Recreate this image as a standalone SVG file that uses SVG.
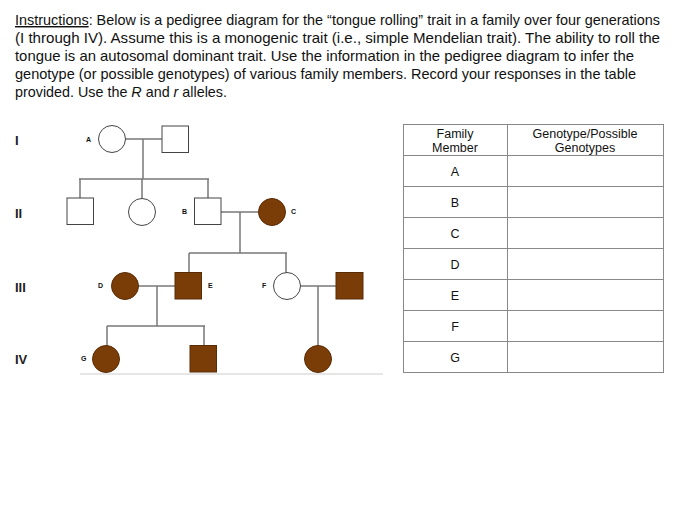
<svg xmlns="http://www.w3.org/2000/svg" width="694" height="512" viewBox="0 0 694 512">
<style>
.t{font-family:"Liberation Sans",Arial,sans-serif;font-size:14.5px;fill:#111}
.lb{font-family:"Liberation Sans",Arial,sans-serif;font-size:7px;font-weight:bold;fill:#111}
.rn{font-family:"Liberation Sans",Arial,sans-serif;font-size:13px;font-weight:bold;fill:#222}
.tb{font-family:"Liberation Sans",Arial,sans-serif;font-size:12.5px;fill:#111;text-anchor:middle}
.u{fill:#fff;stroke:#444;stroke-width:1}
.a{fill:#7a3d08;stroke:#5a2c05;stroke-width:1}
.c line{stroke:#777;stroke-width:1.5}
.g line{stroke:#888;stroke-width:1}
</style>
<rect width="694" height="512" fill="#fff"/>
<g id="instructions">
<text class="t" x="15" y="25" textLength="645" lengthAdjust="spacingAndGlyphs"><tspan text-decoration="underline">Instructions</tspan>: Below is a pedigree diagram for the “tongue rolling” trait in a family over four generations</text>
<text class="t" x="15" y="43" textLength="645" lengthAdjust="spacingAndGlyphs">(I through IV). Assume this is a monogenic trait (i.e., simple Mendelian trait). The ability to roll the</text>
<text class="t" x="15" y="61" textLength="619" lengthAdjust="spacingAndGlyphs">tongue is an autosomal dominant trait. Use the information in the pedigree diagram to infer the</text>
<text class="t" x="15" y="79" textLength="621" lengthAdjust="spacingAndGlyphs">genotype (or possible genotypes) of various family members. Record your responses in the table</text>
<text class="t" x="15" y="97" textLength="212" lengthAdjust="spacingAndGlyphs">provided. Use the <tspan font-style="italic">R</tspan> and <tspan font-style="italic">r</tspan> alleles.</text>
</g>
<g id="generations">
<text class="rn" x="15" y="145">I</text>
<text class="rn" x="15" y="218">II</text>
<text class="rn" x="15" y="292">III</text>
<text class="rn" x="15" y="364">IV</text>
</g>
<g id="connectors" class="c">
<line x1="125" y1="139" x2="162" y2="139"/>
<line x1="143" y1="139" x2="143" y2="179"/>
<line x1="79" y1="179" x2="209" y2="179"/>
<line x1="80" y1="179" x2="80" y2="198"/>
<line x1="142" y1="179" x2="142" y2="199"/>
<line x1="208" y1="179" x2="208" y2="198"/>
<line x1="221" y1="212" x2="258" y2="212"/>
<line x1="240" y1="212" x2="240" y2="253"/>
<line x1="189" y1="253" x2="287" y2="253"/>
<line x1="189" y1="253" x2="189" y2="272"/>
<line x1="286" y1="253" x2="286" y2="273"/>
<line x1="138" y1="286" x2="175" y2="286"/>
<line x1="157" y1="286" x2="157" y2="326"/>
<line x1="107" y1="326" x2="205" y2="326"/>
<line x1="107" y1="326" x2="107" y2="346"/>
<line x1="204" y1="326" x2="204" y2="345"/>
<line x1="300" y1="286" x2="336" y2="286"/>
<line x1="318" y1="286" x2="318" y2="346"/>
</g>
<g id="A"><circle class="u" cx="112" cy="139" r="13.5"/><text class="lb" x="86" y="142">A</text></g>
<g id="I-male"><rect class="u" x="162" y="126" width="26.5" height="26.5"/></g>
<g id="II-male"><rect class="u" x="67" y="198" width="26.5" height="26.5"/></g>
<g id="II-female"><circle class="u" cx="142" cy="212" r="13.5"/></g>
<g id="B"><rect class="u" x="194.5" y="198" width="26.5" height="26.5"/><text class="lb" x="182" y="214">B</text></g>
<g id="C"><circle class="a" cx="272" cy="212" r="13.5"/><text class="lb" x="291" y="214">C</text></g>
<g id="D"><circle class="a" cx="125" cy="286" r="13.5"/><text class="lb" x="98" y="288">D</text></g>
<g id="E"><rect class="a" x="175" y="272.5" width="26.5" height="26.5"/><text class="lb" x="208" y="288">E</text></g>
<g id="F"><circle class="u" cx="287" cy="286" r="13.5"/><text class="lb" x="262" y="288">F</text></g>
<g id="III-male"><rect class="a" x="336" y="272.5" width="27" height="26.5"/></g>
<g id="G"><circle class="a" cx="106" cy="359" r="13.5"/><text class="lb" x="81" y="361">G</text></g>
<g id="IV-male"><rect class="a" x="190" y="345.5" width="26.5" height="26.5"/></g>
<g id="IV-female"><circle class="a" cx="318" cy="359" r="13.5"/></g>
<line x1="80" y1="374" x2="383" y2="374" stroke="#e6e6e6" stroke-width="2"/>
<g id="table">
<g class="g">
<rect x="403.5" y="124.5" width="260" height="248" fill="none" stroke="#888"/>
<line x1="507.5" y1="124.5" x2="507.5" y2="372.5"/>
<line x1="403.5" y1="155.5" x2="663.5" y2="155.5"/>
<line x1="403.5" y1="186.5" x2="663.5" y2="186.5"/>
<line x1="403.5" y1="217.5" x2="663.5" y2="217.5"/>
<line x1="403.5" y1="248.5" x2="663.5" y2="248.5"/>
<line x1="403.5" y1="279.5" x2="663.5" y2="279.5"/>
<line x1="403.5" y1="310.5" x2="663.5" y2="310.5"/>
<line x1="403.5" y1="341.5" x2="663.5" y2="341.5"/>
</g>
<text class="tb" x="455" y="138">Family</text>
<text class="tb" x="455" y="152">Member</text>
<text class="tb" x="585" y="138">Genotype/Possible</text>
<text class="tb" x="585" y="152">Genotypes</text>
<text class="tb" x="455" y="176">A</text>
<text class="tb" x="455" y="207">B</text>
<text class="tb" x="455" y="238">C</text>
<text class="tb" x="455" y="269">D</text>
<text class="tb" x="455" y="300">E</text>
<text class="tb" x="455" y="331">F</text>
<text class="tb" x="455" y="362">G</text>
</g>
</svg>
